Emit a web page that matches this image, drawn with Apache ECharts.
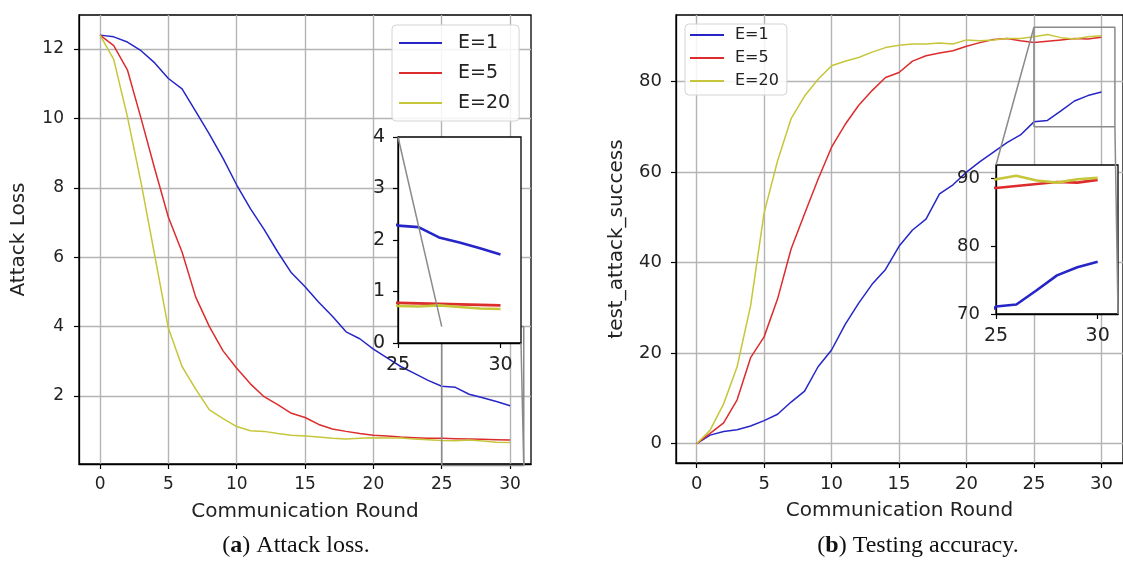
<!DOCTYPE html>
<html><head><meta charset="utf-8">
<script src="https://cdn.jsdelivr.net/npm/echarts@6/dist/echarts.min.js"></script>
<style>html,body{margin:0;padding:0;background:#fff}#c{width:1123px;height:567px}</style>
</head><body><div id="c"></div>
<script>
// ---------- data ----------
const rounds = [0,1,2,3,4,5,6,7,8,9,10,11,12,13,14,15,16,17,18,19,20,21,22,23,24,25,26,27,28,29,30];
const seriesNames = ['E=1','E=5','E=20'];
// (a) Attack loss
const lossE1  = [12.40,12.35,12.20,11.95,11.60,11.15,10.85,10.20,9.55,8.85,8.08,7.40,6.80,6.15,5.55,5.15,4.70,4.30,3.85,3.65,3.35,3.10,2.85,2.65,2.45,2.28,2.25,2.05,1.95,1.84,1.72];
const lossE5  = [12.40,12.10,11.40,10.00,8.55,7.15,6.15,4.85,4.00,3.30,2.80,2.35,1.98,1.75,1.50,1.38,1.18,1.05,0.98,0.92,0.87,0.85,0.82,0.80,0.78,0.78,0.77,0.76,0.75,0.74,0.73];
const lossE20 = [12.40,11.70,10.05,8.15,6.05,3.95,2.85,2.20,1.60,1.35,1.12,1.00,0.98,0.92,0.87,0.85,0.82,0.78,0.76,0.78,0.80,0.79,0.79,0.76,0.74,0.72,0.71,0.73,0.70,0.67,0.66];
// (b) Testing accuracy
const accE1  = [0,1.9,2.7,3.1,3.9,5.1,6.5,9.2,11.6,17.0,20.7,26.3,31.0,35.2,38.5,43.6,47.2,49.6,55.2,57.2,60.0,62.3,64.4,66.5,68.2,71.1,71.4,73.5,75.7,76.9,77.7];
const accE5  = [0,2.3,4.6,9.7,19.0,23.6,32.0,43.0,50.8,58.4,65.5,70.5,74.7,78.0,80.9,82.0,84.5,85.7,86.3,86.8,87.8,88.6,89.3,89.5,89.0,88.6,88.9,89.2,89.5,89.4,89.8];
const accE20 = [0,3.0,8.8,17.0,30.5,51.0,62.5,71.8,76.8,80.5,83.5,84.5,85.3,86.5,87.5,88.0,88.3,88.3,88.5,88.3,89.2,89.0,89.2,89.5,89.5,89.9,90.4,89.7,89.4,89.9,90.1];
// ticks
const xTicks = [0,5,10,15,20,25,30];
const lossTicks = [2,4,6,8,10,12];
const accTicks = [0,20,40,60,80];
const insetXTicks = [25,30];
const lossInsetTicks = [0,1,2,3,4];
const accInsetTicks = [70,80,90];
// zoomed regions of the insets
const lossInsetX = [25,31], lossInsetY = [0,4];
const accInsetX = [25,31], accInsetY = [70,92];
// texts
const xTitle = 'Communication Round';
const lossTitle = 'Attack Loss';
const accTitle = 'test_attack_success';

// ---------- styling ----------
const colors = ['#2626c8','#dd2c2c','#c6c63a'];
const FONT = 'DejaVu Sans';
const TXT = '#222';
const GRID_C = '#b4b4b4';

function pairs(arr){ return rounds.map((r,i)=>[r, arr[i]]); }

function mainX(grid, min, max, fs){
  return {gridIndex:grid, type:'value', min:min, max:max,
    axisLine:{show:true, onZero:false, lineStyle:{color:'#000', width:1.3}},
    axisTick:{show:true, customValues:xTicks, length:5, lineStyle:{color:'#000', width:1.2}},
    axisLabel:{customValues:xTicks, fontSize:fs, color:TXT, fontFamily:FONT, margin:12},
    splitLine:{show:true, lineStyle:{color:GRID_C, width:1.4}},
    name:xTitle, nameLocation:'middle', nameGap:38,
    nameTextStyle:{fontSize:20, color:TXT, fontFamily:FONT}};
}
function mainY(grid, min, max, ticks, fs, title, gap, margin){
  return {gridIndex:grid, type:'value', min:min, max:max,
    axisLine:{show:true, onZero:false, lineStyle:{color:'#000', width:1.3}},
    axisTick:{show:true, customValues:ticks, length:5, lineStyle:{color:'#000', width:1.2}},
    axisLabel:{customValues:ticks, fontSize:fs, color:TXT, fontFamily:FONT, margin:margin},
    splitLine:{show:true, lineStyle:{color:GRID_C, width:1.4}},
    name:title, nameLocation:'middle', nameGap:gap, nameRotate:90,
    nameTextStyle:{fontSize:20, color:TXT, fontFamily:FONT}};
}
function insetAxis(grid, range, ticks, fs, margin){
  return {gridIndex:grid, type:'value', min:range[0], max:range[1], z:6,
    axisLine:{show:true, onZero:false, lineStyle:{color:'#000', width:1.3}},
    axisTick:{show:true, customValues:ticks, length:5, lineStyle:{color:'#000', width:1.2}},
    axisLabel:{customValues:ticks, fontSize:fs, color:TXT, fontFamily:FONT, margin:margin},
    splitLine:{show:false}};
}

const grids = [
  {left:79, top:15, width:452, height:449, show:true, borderColor:'#000', borderWidth:1.3, backgroundColor:'#fff'},
  {left:398, top:137, width:123, height:206, show:true, borderColor:'#000', borderWidth:1.3, backgroundColor:'#fff', z:5},
  {left:676, top:15, width:454, height:448, show:true, borderColor:'#000', borderWidth:1.3, backgroundColor:'#fff'},
  {left:996, top:165, width:122, height:149, show:true, borderColor:'#000', borderWidth:1.3, backgroundColor:'#fff', z:5}
];

const xAxes = [
  mainX(0, -1.54, 31.53, 17),
  insetAxis(1, lossInsetX, insetXTicks, 19, 13),
  mainX(2, -1.53, 31.6, 18),
  insetAxis(3, accInsetX, insetXTicks, 19, 13)
];
const yAxes = [
  mainY(0, 0.04, 12.98, lossTicks, 17, lossTitle, 50, 15),
  insetAxis(1, lossInsetY, lossInsetTicks, 19, 13),
  mainY(2, -4.26, 94.7, accTicks, 18, accTitle, 49, 14),
  insetAxis(3, accInsetY, accInsetTicks, 18, 16)
];

const series = [];
const lossData = [lossE1, lossE5, lossE20];
const accData = [accE1, accE5, accE20];
function addLine(name, data, xi, color, w, z){
  series.push({type:'line', name:name, xAxisIndex:xi, yAxisIndex:xi, data:pairs(data),
    showSymbol:false, symbol:'none', clip:true, animation:false, z:z,
    lineStyle:{color:color, width:w}, itemStyle:{color:color}});
}
seriesNames.forEach((n,i)=>{
  addLine(n, lossData[i], 0, colors[i], 1.5, 2);
  addLine(n, lossData[i], 1, colors[i], 2.6, 7);
  addLine(n, accData[i], 2, colors[i], 1.5, 2);
  addLine(n, accData[i], 3, colors[i], 2.6, 7);
});
function rectSeries(xi, rx, ry){
  series.push({type:'line', name:'zoom-box-'+xi, xAxisIndex:xi, yAxisIndex:xi,
    data:[[rx[0],ry[0]],[rx[1],ry[0]],[rx[1],ry[1]],[rx[0],ry[1]],[rx[0],ry[0]]],
    showSymbol:false, symbol:'none', clip:false, animation:false, silent:true, z:3,
    lineStyle:{color:'#8a8a8a', width:1.5}});
}
rectSeries(0, lossInsetX, lossInsetY);
rectSeries(2, accInsetX, accInsetY);

const legends = [
  {data:seriesNames, left:392, top:25, orient:'vertical', icon:'rect', itemWidth:43, itemHeight:2,
   itemGap:10, padding:[8,9,8,7], backgroundColor:'rgba(255,255,255,0.85)', borderColor:'#d4d4d4',
   borderWidth:1, borderRadius:4, z:20,
   textStyle:{fontSize:19, lineHeight:20, color:TXT, fontFamily:FONT, padding:[0,0,0,11]}},
  {data:seriesNames, left:685, top:24, orient:'vertical', icon:'rect', itemWidth:34, itemHeight:2,
   itemGap:7, padding:[3,8,6,5], backgroundColor:'rgba(255,255,255,0.85)', borderColor:'#d4d4d4',
   borderWidth:1, borderRadius:4, z:20,
   textStyle:{fontSize:16, lineHeight:16, color:TXT, fontFamily:FONT, padding:[0,0,0,6]}}
];

const chart = echarts.init(document.getElementById('c'), null, {renderer:'canvas'});
chart.setOption({
  animation:false, backgroundColor:'#fff',
  grid:grids, xAxis:xAxes, yAxis:yAxes, legend:legends, series:series
});

// connector lines & captions
function conn(insetGrid, mainGrid, pt){
  const a = chart.convertToPixel({gridIndex:insetGrid}, pt);
  const b = chart.convertToPixel({gridIndex:mainGrid}, pt);
  return {type:'line', z:100, silent:true,
    shape:{x1:a[0], y1:a[1], x2:b[0], y2:b[1]},
    style:{stroke:'#8a8a8a', lineWidth:1.5}};
}
function caption(x, letter, rest){
  return {type:'text', x:x, y:546, z:100, silent:true,
    style:{text:'({b|'+letter+'}) '+rest, fontSize:24, fontFamily:'Liberation Serif', fill:'#111',
      align:'center', verticalAlign:'middle',
      rich:{b:{fontWeight:'bold', fontSize:24, fontFamily:'Liberation Serif', fill:'#111'}}}};
}
chart.setOption({graphic:[
  conn(1, 0, [lossInsetX[0], lossInsetY[1]]),
  conn(1, 0, [lossInsetX[1], lossInsetY[0]]),
  conn(3, 2, [accInsetX[0], accInsetY[1]]),
  conn(3, 2, [accInsetX[1], accInsetY[0]]),
  caption(296, 'a', 'Attack loss.'),
  caption(918, 'b', 'Testing accuracy.')
]});
</script></body></html>
